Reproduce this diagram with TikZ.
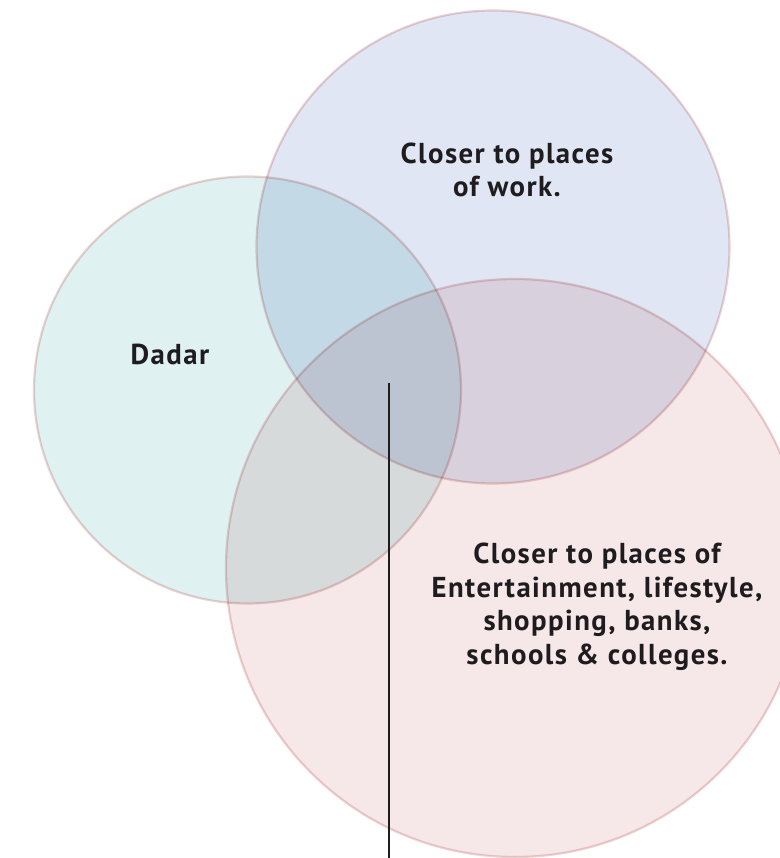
\documentclass[tikz,border=0pt]{standalone}
\usepackage{fontspec}
\setmainfont{PT Sans}[LetterSpace=5]
\definecolor{fillL}{RGB}{223,241,241}
\definecolor{fillT}{RGB}{224,230,244}
\definecolor{fillB}{RGB}{246,231,232}
\definecolor{ring}{RGB}{238,210,210}
\definecolor{ink}{RGB}{30,28,30}
\tikzset{
  venn/.style={circle, draw=ring, line width=2.2pt, inner sep=0pt},
  lbl/.style={text=ink, font=\fontsize{28.8}{33.5}\selectfont\bfseries, align=center, inner sep=0pt}
}
\begin{document}
\begin{tikzpicture}[x=1pt,y=-1pt]
\useasboundingbox (0,0) rectangle (779,858);
\clip (0,0) rectangle (779,858);
\begin{scope}[blend group=multiply]
\node[venn, fill=fillL, minimum size=427pt] (dadar) at (247.5,390) {};
\node[venn, fill=fillT, minimum size=473pt] (work) at (493,247) {};
\node[venn, fill=fillB, minimum size=578pt] (ent) at (515,568) {};
\end{scope}
\node[lbl] (tdadar) at (170,354) {Dadar};
\node[lbl] (twork) at (507,170) {Closer to places\\of work.};
\node[lbl] (tent) at (597,607) {Closer to places of\\Entertainment, lifestyle,\\shopping, banks,\\schools \& colleges.};
\coordinate (pin) at (389,383);
\coordinate (pinend) at (389,860);
\draw[ink, line width=2.8pt] (pin) -- (pinend);
\end{tikzpicture}
\end{document}
